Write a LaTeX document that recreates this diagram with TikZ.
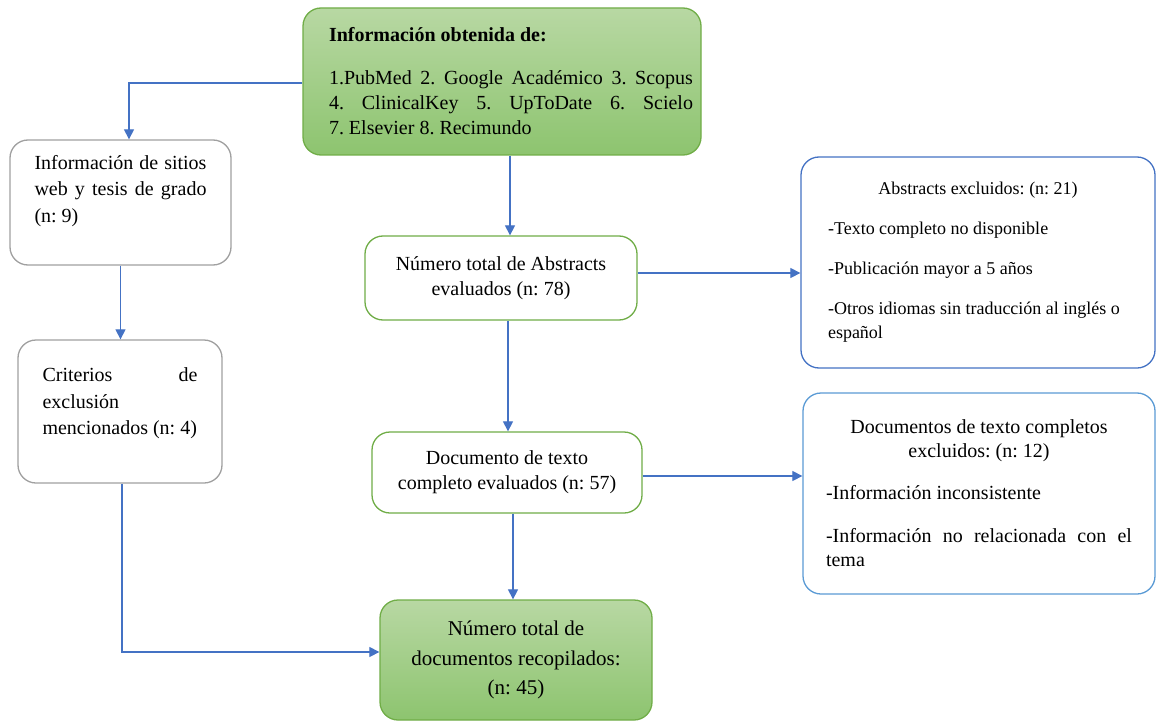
\documentclass[tikz,border=0pt]{standalone}
\usepackage{fontspec}
\setmainfont{Liberation Serif}
\usetikzlibrary{arrows.meta}
\definecolor{gborder}{HTML}{70AD47}
\definecolor{gtop}{HTML}{B8D8A3}
\definecolor{gbot}{HTML}{8DC46F}
\definecolor{grayb}{HTML}{A0A0A0}
\definecolor{blueb}{HTML}{4472C4}
\definecolor{bluec}{HTML}{5B9BD5}
\definecolor{arrowc}{HTML}{4472C4}
\frenchspacing
\begin{document}
\begin{tikzpicture}[x=1pt,y=-1pt,
  box/.style={rounded corners=18pt, line width=1.3pt, inner sep=0pt, align=center,
              font=\fontsize{20}{25}\selectfont},
  greenbox/.style={box, draw=gborder, top color=gtop, bottom color=gbot},
  greenline/.style={box, draw=gborder, fill=white},
  graybox/.style={box, draw=grayb, fill=white, font=\fontsize{20}{26.5}\selectfont},
  bluebox/.style={box, draw=blueb, fill=white},
  lbluebox/.style={box, draw=bluec, fill=white},
  arr/.style={draw=arrowc, line width=1.2pt, -{Triangle[length=10pt,width=10pt]}}
]
\useasboundingbox (0,0) rectangle (1158,722);
\fill[white] (0,0) rectangle (1158,722);

% top source box
\node[greenbox, minimum width=398pt, minimum height=147pt] (src) at (502,81.5)
 {\hspace*{18pt}\begin{minipage}{364pt}\frenchspacing
  \textbf{Información obtenida de:}\par\vspace{18pt}
  \makebox[\linewidth][s]{1.PubMed 2. Google Académico 3. Scopus}\par
  \makebox[\linewidth][s]{4. ClinicalKey 5. UpToDate 6. Scielo}\par
  7. Elsevier 8. Recimundo
 \end{minipage}};

% left boxes
\node[graybox, minimum width=221pt, minimum height=125pt] (web) at (120.5,202.5)
 {\begin{minipage}[c][95pt][t]{172pt}
  \makebox[\linewidth][s]{Información de sitios}\par
  \makebox[\linewidth][s]{web y tesis de grado}\par
  (n: 9)
 \end{minipage}};
\node[graybox, minimum width=204pt, minimum height=143pt] (crit) at (120,411.5)
 {\begin{minipage}[c][87pt][t]{155pt}
  \makebox[\linewidth][s]{Criterios\hfill de}\par
  exclusión\par
  mencionados (n: 4)
 \end{minipage}};

% middle boxes
\node[greenline, minimum width=272pt, minimum height=84pt] (abs) at (501,278)
 {Número total de Abstracts\\evaluados (n: 78)};
\node[greenline, minimum width=270pt, minimum height=81pt] (doc) at (507,472.5)
 {Documento de texto\\completo evaluados (n: 57)};
\node[greenbox, minimum width=272pt, minimum height=120pt,
      font=\fontsize{21}{29.5}\selectfont] (total) at (516,660)
 {Número total de\\documentos recopilados:\\(n: 45)};

% right boxes
\node[bluebox, minimum width=354pt, minimum height=211pt,
      font=\fontsize{18}{24}\selectfont] (exc1) at (978,262.5)
 {\begin{minipage}{300pt}
  \centering Abstracts excluidos: (n: 21)\par\vspace{16pt}
  \raggedright -Texto completo no disponible\par\vspace{16pt}
  -Publicación mayor a 5 años\par\vspace{16pt}
  -Otros idiomas sin traducción al inglés o\\español
 \end{minipage}};
\node[lbluebox, minimum width=352pt, minimum height=201pt,
      font=\fontsize{20}{24}\selectfont] (exc2) at (979,493.5)
 {\begin{minipage}{306pt}
  \centering Documentos de texto completos\\excluidos: (n: 12)\par\vspace{18pt}
  \raggedright -Información inconsistente\par\vspace{19pt}
  \makebox[\linewidth][s]{-Información no relacionada con el}\par
  tema
 \end{minipage}};

% connectors
\draw[arr] ([yshift=-1.5pt]src.west) -| ([xshift=8.5pt]web.north);
\draw[arr] ([xshift=9pt]abs.north |- src.south) -- ([xshift=9pt]abs.north);
\draw[arr] (web.south) -- (web.south |- crit.north);
\draw[arr] ([xshift=1pt]doc.north |- abs.south) -- ([xshift=1pt]doc.north);
\draw[arr] ([yshift=5pt]abs.east) -- ([yshift=5pt]abs.east -| exc1.west);
\draw[arr] ([yshift=-3.5pt]doc.east) -- ([yshift=-3.5pt]doc.east -| exc2.west);
\draw[arr] ([xshift=6pt]doc.south) -- ([xshift=6pt]doc.south |- total.north);
\draw[arr] ([xshift=2pt]crit.south) |- ([yshift=8pt]total.west);
\end{tikzpicture}
\end{document}
